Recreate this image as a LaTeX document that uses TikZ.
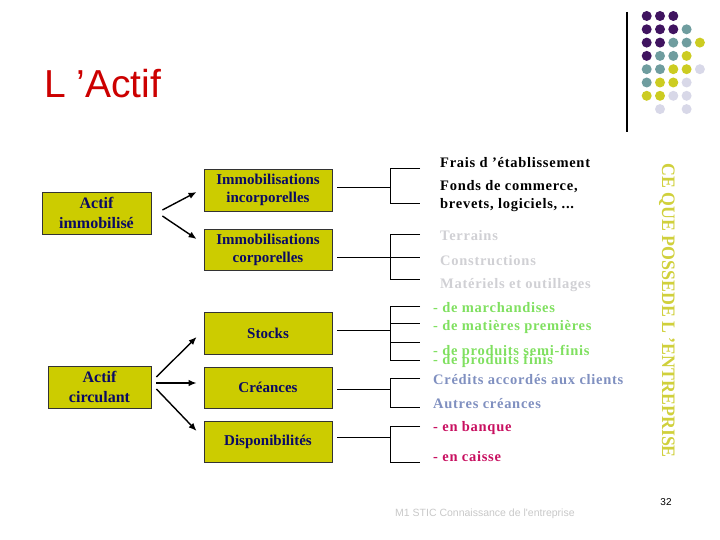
\documentclass[tikz,border=0pt]{standalone}
\usepackage{fontspec}
\setmainfont{Liberation Serif}
\newfontfamily\arialf{Liberation Sans}
\newfontfamily\spacedf[LetterSpace=5]{Liberation Serif}
\usetikzlibrary{arrows.meta,calc}
\definecolor{boxfill}{RGB}{204,204,0}
\definecolor{navy}{RGB}{10,10,100}
\definecolor{titlered}{RGB}{204,0,0}
\definecolor{dpurple}{RGB}{64,20,96}
\definecolor{dteal}{RGB}{111,157,159}
\definecolor{dyellow}{RGB}{204,204,34}
\definecolor{dlav}{RGB}{216,216,232}
\definecolor{lgray}{RGB}{208,208,212}
\definecolor{lgreen}{RGB}{128,224,96}
\definecolor{gblue}{RGB}{128,144,192}
\definecolor{crimson}{RGB}{200,16,96}
\definecolor{vyellow}{RGB}{208,208,60}
\definecolor{footgray}{RGB}{200,200,200}
\tikzset{
  ybox/.style={draw=black!80, line width=0.8pt, fill=boxfill, text=navy, font=\fontsize{15}{18}\selectfont\bfseries, align=center, minimum width=128pt, minimum height=42pt, inner sep=0pt},
  lbox/.style={ybox, font=\fontsize{16}{20}\selectfont\bfseries},
  arr/.style={line width=1.4pt, black, -{Latex[length=8pt,width=6.5pt]}},
  br/.style={line width=0.9pt, black},
  rt/.style={anchor=base west, inner sep=0pt, font=\spacedf\fontsize{14.5}{17}\selectfont\bfseries},
  dot/.style={circle, inner sep=0pt, minimum size=10pt}
}
\begin{document}
\begin{tikzpicture}[x=1pt,y=-1pt]
\useasboundingbox (0,0) rectangle (720,540);
% title
\node[anchor=base west, inner sep=0pt, text=titlered, font=\arialf\fontsize{39}{44}\selectfont] (title) at (44,98) {L ’Actif};
% decoration
\draw[line width=1.2pt] (627,12) coordinate (vl1) -- (627,132) coordinate (vl2);
\foreach \r/\c/\col in {0/0/dpurple,0/1/dpurple,0/2/dpurple,
  1/0/dpurple,1/1/dpurple,1/2/dpurple,1/3/dteal,
  2/0/dpurple,2/1/dpurple,2/2/dteal,2/3/dteal,2/4/dyellow,
  3/0/dpurple,3/1/dteal,3/2/dteal,3/3/dyellow,
  4/0/dteal,4/1/dteal,4/2/dyellow,4/3/dyellow,4/4/dlav,
  5/0/dteal,5/1/dyellow,5/2/dyellow,5/3/dlav,
  6/0/dyellow,6/1/dyellow,6/2/dlav,6/3/dlav,
  7/1/dlav,7/3/dlav}
  \node[dot, fill=\col] (d\r\c) at ({646.7+13.3*\c},{16+13.3*\r}) {};
% left boxes
\node[lbox, minimum width=109pt] (AI) at (96.5,213) {Actif\\immobilisé};
\node[lbox, minimum width=103pt] (AC) at (99.5,387) {Actif\\circulant};
% middle boxes
\node[ybox] (II) at (268,190) {Immobilisations\\incorporelles};
\node[ybox, minimum height=41pt] (IC) at (268,249.5) {Immobilisations\\corporelles};
\node[ybox] (ST) at (268,333) {Stocks};
\node[ybox, minimum height=41pt] (CR) at (268,387.5) {Créances};
\node[ybox, minimum height=41pt] (DI) at (268,441.5) {Disponibilités};
% arrows
\draw[arr] ($(AI.east)+(11,-3)$) -- ($(II.west)+(-7,2)$);
\draw[arr] ($(AI.east)+(11,3)$) -- ($(IC.west)+(-7,-10.5)$);
\draw[arr] ($(AC.east)+(5,-10)$) -- ($(ST.west)+(-7,4)$);
\draw[arr] ($(AC.east)+(5,-4)$) -- ($(CR.west)+(-7,-4.5)$);
\draw[arr] ($(AC.east)+(5,2)$) -- ($(DI.west)+(-7,-10.5)$);
% brackets
\draw[br] ($(II.east)+(5,-3)$) -- (390,187);
\draw[br] (420,168) -- (390,168) -- (390,203) -- (420,203);
\draw[br] ($(IC.east)+(5,7.5)$) -- (420,257);
\draw[br] (420,234) -- (390,234) -- (390,279) -- (420,279);
\draw[br] ($(ST.east)+(5,-3)$) -- (390,330);
\draw[br] (420,306) -- (390,306) -- (390,360) -- (420,360);
\draw[br] (390,323) -- (420,323);
\draw[br] (390,342) -- (420,342);
\draw[br] ($(CR.east)+(5,1.5)$) -- (390,389);
\draw[br] (420,378) -- (390,378) -- (390,407) -- (420,407);
\draw[br] ($(DI.east)+(5,-4.5)$) -- (390,437);
\draw[br] (420,426) -- (390,426) -- (390,462) -- (420,462);
% right texts
\node[rt, text=black] (t1) at (440,167.3) {Frais d ’établissement};
\node[rt, text=black] (t2) at (440,191) {Fonds de commerce,};
\node[rt, text=black] (t3) at (440,208.5) {brevets, logiciels, ...};
\node[rt, text=lgray] (t4) at (440,240.7) {Terrains};
\node[rt, text=lgray] (t5) at (440,265) {Constructions};
\node[rt, text=lgray] (t6) at (440,288.3) {Matériels et outillages};
\node[rt, text=lgreen] (t7) at (433,312.7) {- de marchandises};
\node[rt, text=lgreen] (t8) at (433,330) {- de matières premières};
\node[rt, text=lgreen] (t9) at (433,355.7) {- de produits semi-finis};
\node[rt, text=lgreen] (t10) at (433,364) {- de produits finis};
\node[rt, text=gblue] (t11) at (433,384.3) {Crédits accordés aux clients};
\node[rt, text=gblue] (t12) at (433,408.3) {Autres créances};
\node[rt, text=crimson] (t13) at (433,431.7) {- en banque};
\node[rt, text=crimson] (t14) at (433,461.7) {- en caisse};
% vertical text
\node[rotate=-90, text=vyellow, inner sep=0pt, font=\fontsize{19}{22}\selectfont\bfseries] (vt) at (667,310.5) {\scalebox{0.94}[1]{CE QUE POSSEDE L ’ENTREPRISE}};
% footer
\node[anchor=west, inner sep=0pt, text=footgray, font=\arialf\fontsize{10.5}{12}\selectfont] (foot) at (395,513.5) {M1 STIC Connaissance de l'entreprise};
\node[inner sep=0pt, font=\arialf\fontsize{10}{12}\selectfont] (pg) at (666,501.7) {32};
\end{tikzpicture}
\end{document}
